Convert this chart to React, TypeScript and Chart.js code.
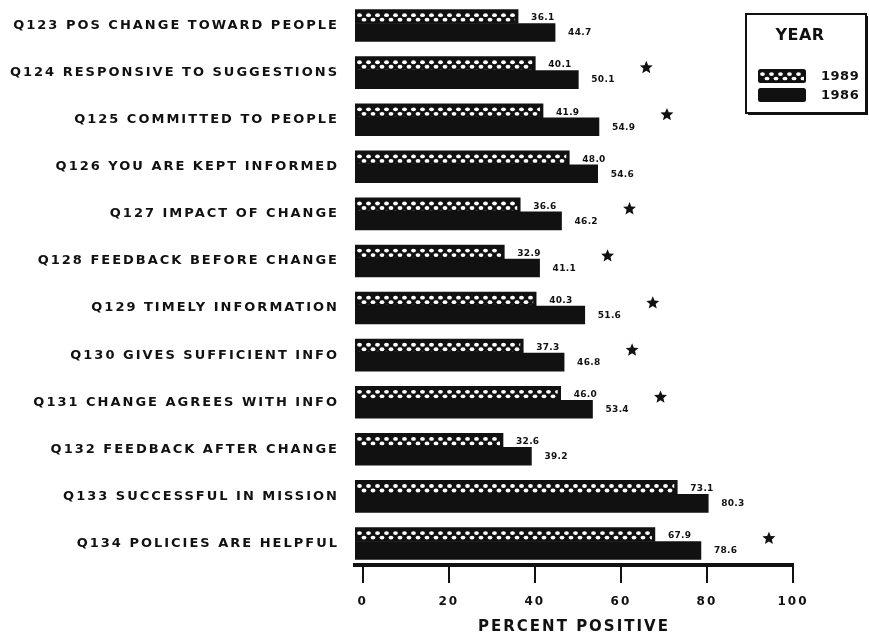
import { useEffect, useRef } from 'react';
import { Chart, registerables } from 'chart.js';

Chart.register(...registerables);

const categories = [
  'Q123 POS CHANGE TOWARD PEOPLE',
  'Q124 RESPONSIVE TO SUGGESTIONS',
  'Q125 COMMITTED TO PEOPLE',
  'Q126 YOU ARE KEPT INFORMED',
  'Q127 IMPACT OF CHANGE',
  'Q128 FEEDBACK BEFORE CHANGE',
  'Q129 TIMELY INFORMATION',
  'Q130 GIVES SUFFICIENT INFO',
  'Q131 CHANGE AGREES WITH INFO',
  'Q132 FEEDBACK AFTER CHANGE',
  'Q133 SUCCESSFUL IN MISSION',
  'Q134 POLICIES ARE HELPFUL',
];
const seriesLabels = ['1989', '1986'];
const valuesHatched = [36.1, 40.1, 41.9, 48.0, 36.6, 32.9, 40.3, 37.3, 46.0, 32.6, 73.1, 67.9];
const valuesSolid = [44.7, 50.1, 54.9, 54.6, 46.2, 41.1, 51.6, 46.8, 53.4, 39.2, 80.3, 78.6];
const significant = [false, true, true, false, true, true, true, true, true, false, false, true];
const xTicks = [0, 20, 40, 60, 80, 100];
const legendTitle = 'YEAR';
const xTitle = 'PERCENT POSITIVE';

const FONT = "'DejaVu Sans', sans-serif";
const W = 'bold';
const INK = '#111111';
const X_MIN = -1.8;

function drawDots(ctx: CanvasRenderingContext2D, x: number, y: number, w: number, h: number) {
  ctx.save();
  ctx.beginPath();
  ctx.rect(x, y, w, h);
  ctx.clip();
  ctx.fillStyle = '#ffffff';
  const rows = Math.ceil(h / 4.3) + 1;
  for (let r = 0; r < rows; r++) {
    const ry = y + 2.6 + r * 4.5;
    const off = (r % 2) * 4.5;
    for (let cx = x + 2.5 + off; cx < x + w + 2; cx += 9) {
      ctx.beginPath();
      ctx.ellipse(cx, ry, 2.4, 1.9, 0, 0, Math.PI * 2);
      ctx.fill();
    }
  }
  ctx.restore();
}

function drawStar(ctx: CanvasRenderingContext2D, cx: number, cy: number, R: number) {
  const r = R * 0.45;
  ctx.beginPath();
  for (let i = 0; i < 10; i++) {
    const a = -Math.PI / 2 + (i * Math.PI) / 5;
    const rad = i % 2 === 0 ? R : r;
    const px = cx + rad * Math.cos(a);
    const py = cy + rad * Math.sin(a);
    if (i === 0) ctx.moveTo(px, py);
    else ctx.lineTo(px, py);
  }
  ctx.closePath();
  ctx.fill();
}

function roundRect(ctx: CanvasRenderingContext2D, x: number, y: number, w: number, h: number, r: number) {
  ctx.beginPath();
  ctx.moveTo(x + r, y);
  ctx.lineTo(x + w - r, y);
  ctx.quadraticCurveTo(x + w, y, x + w, y + r);
  ctx.lineTo(x + w, y + h - r);
  ctx.quadraticCurveTo(x + w, y + h, x + w - r, y + h);
  ctx.lineTo(x + r, y + h);
  ctx.quadraticCurveTo(x, y + h, x, y + h - r);
  ctx.lineTo(x, y + r);
  ctx.quadraticCurveTo(x, y, x + r, y);
  ctx.closePath();
}

const spacingPlugin = {
  id: 'spacing',
  beforeDraw(chart: any) {
    (chart.ctx as any).letterSpacing = '2px';
  },
};

const decorPlugin = {
  id: 'decor',
  afterDatasetsDraw(chart: any) {
    const ctx: CanvasRenderingContext2D = chart.ctx;
    ctx.save();
    (ctx as any).letterSpacing = '0.3px';
    const m0 = chart.getDatasetMeta(0);
    const m1 = chart.getDatasetMeta(1);
    m0.data.forEach((bar: any) => {
      const p = bar.getProps(['x', 'y', 'base', 'height'], true);
      const top = p.y - p.height / 2;
      drawDots(ctx, p.base + 2, top + 3, p.x - p.base - 5, p.height - 4.5);
    });
    ctx.fillStyle = INK;
    ctx.font = `${W} 9px ${FONT}`;
    ctx.textAlign = 'left';
    ctx.textBaseline = 'middle';
    m0.data.forEach((bar: any, i: number) => {
      const p = bar.getProps(['x', 'y'], true);
      ctx.fillText(valuesHatched[i].toFixed(1), p.x + 13, p.y + 1.5);
    });
    m1.data.forEach((bar: any, i: number) => {
      const p = bar.getProps(['x', 'y'], true);
      ctx.fillText(valuesSolid[i].toFixed(1), p.x + 13, p.y + 0.5);
      if (significant[i]) {
        const h = m0.data[i].getProps(['y'], true);
        drawStar(ctx, p.x + 68, h.y + 4, 6.8);
      }
    });
    ctx.restore();
  },
  afterDraw(chart: any) {
    const ctx: CanvasRenderingContext2D = chart.ctx;
    ctx.save();
    (ctx as any).letterSpacing = '0.5px';
    const bx = 746, by = 14, bw = 120, bh = 99;
    ctx.fillStyle = '#ffffff';
    ctx.fillRect(bx, by, bw, bh);
    ctx.strokeStyle = INK;
    ctx.lineWidth = 2;
    ctx.strokeRect(bx, by, bw, bh);
    ctx.fillStyle = INK;
    ctx.fillRect(bx + bw, by + 2, 2, bh);
    ctx.fillRect(bx + 2, by + bh, bw, 2);
    ctx.font = `${W} 16px ${FONT}`;
    ctx.textAlign = 'center';
    ctx.textBaseline = 'middle';
    ctx.fillText(legendTitle, 800, 36);
    roundRect(ctx, 758, 69, 48, 14, 2.5);
    ctx.fill();
    drawDots(ctx, 760, 71.5, 44, 9);
    ctx.fillStyle = INK;
    roundRect(ctx, 758, 88, 48, 14, 2.5);
    ctx.fill();
    ctx.font = `${W} 13px ${FONT}`;
    ctx.textAlign = 'left';
    ctx.fillText(seriesLabels[0], 821, 76.5);
    ctx.fillText(seriesLabels[1], 821, 95.5);
    ctx.restore();
  },
};

export default function App() {
  const ref = useRef<HTMLCanvasElement | null>(null);
  useEffect(() => {
    if (!ref.current) return;
    const chart = new Chart(ref.current, {
      type: 'bar',
      data: {
        labels: categories,
        datasets: [
          {
            label: seriesLabels[0],
            data: valuesHatched,
            backgroundColor: INK,
            borderWidth: 0,
            barThickness: 14,
            base: X_MIN,
          } as any,
          {
            label: seriesLabels[1],
            data: valuesSolid,
            backgroundColor: INK,
            borderWidth: 0,
            barThickness: 18,
            base: X_MIN,
          } as any,
        ],
      },
      options: {
        indexAxis: 'y',
        animation: false,
        responsive: true,
        maintainAspectRatio: false,
        events: [],
        layout: { padding: { left: 0, right: 76, top: 0, bottom: 0 } },
        plugins: {
          legend: { display: false },
          tooltip: { enabled: false },
          title: { display: false },
        },
        scales: {
          x: {
            type: 'linear',
            min: X_MIN,
            max: 100,
            afterBuildTicks: (s: any) => {
              s.ticks = xTicks.map((v) => ({ value: v }));
            },
            grid: {
              display: true,
              drawOnChartArea: false,
              drawTicks: true,
              tickLength: 18,
              lineWidth: 2,
              color: INK,
            },
            border: { display: true, width: 4, color: INK },
            ticks: {
              color: INK,
              font: { family: FONT, size: 12, weight: W },
              padding: 12,
              maxRotation: 0,
            },
            title: {
              display: true,
              text: xTitle,
              color: INK,
              font: { family: FONT, size: 15, weight: W },
              padding: { top: 0, bottom: 1 },
            },
            afterFit: (s: any) => {
              s.height = 72;
              s.paddingLeft = 0;
              s.paddingRight = 0;
            },
          } as any,
          y: {
            type: 'category',
            offset: true,
            grid: { display: false, drawTicks: false },
            border: { display: false },
            ticks: {
              color: INK,
              font: { family: FONT, size: 13, weight: W },
              padding: 16,
              autoSkip: false,
              labelOffset: 2,
            },
            afterFit: (s: any) => {
              s.width = 355;
              s.paddingTop = 0;
              s.paddingBottom = 0;
            },
          } as any,
        },
      },
      plugins: [spacingPlugin, decorPlugin],
    });
    return () => chart.destroy();
  }, []);
  return (
    <div style={{ position: 'fixed', left: 0, top: 0, width: 869, height: 637, background: '#ffffff' }}>
      <canvas ref={ref} />
    </div>
  );
}
